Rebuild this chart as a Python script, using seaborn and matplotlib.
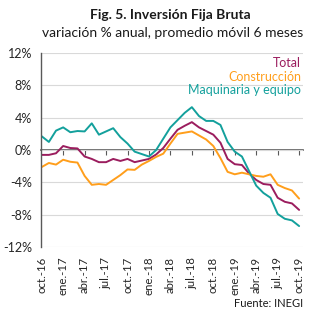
import matplotlib
matplotlib.use("Agg")
import matplotlib.pyplot as plt
import numpy as np
import pandas as pd
import seaborn as sns

months = ['oct.-16', 'nov.-16', 'dic.-16', 'ene.-17', 'feb.-17', 'mar.-17', 'abr.-17', 'may.-17',
          'jun.-17', 'jul.-17', 'ago.-17', 'sep.-17', 'oct.-17', 'nov.-17', 'dic.-17', 'ene.-18',
          'feb.-18', 'mar.-18', 'abr.-18', 'may.-18', 'jun.-18', 'jul.-18', 'ago.-18', 'sep.-18',
          'oct.-18', 'nov.-18', 'dic.-18', 'ene.-19', 'feb.-19', 'mar.-19', 'abr.-19', 'may.-19',
          'jun.-19', 'jul.-19', 'ago.-19', 'sep.-19', 'oct.-19']

total = [-0.6, -0.6, -0.4, 0.5, 0.25, 0.2, -0.8, -1.1, -1.5, -1.5, -1.1, -1.35, -1.1, -1.5,
         -1.3, -1.1, -0.55, 0.25, 1.4, 2.5, 3.0, 3.45, 2.8, 2.35, 1.9, 0.9, -1.1, -1.75,
         -1.85, -2.9, -3.7, -4.2, -4.3, -5.9, -6.4, -6.6, -7.4]
construccion = [-2.1, -1.6, -1.8, -1.2, -1.45, -1.55, -3.2, -4.3, -4.2, -4.3, -3.7, -3.1, -2.4,
                -2.45, -1.8, -1.35, -0.85, -0.45, 0.8, 2.0, 2.15, 2.3, 1.8, 1.3, 0.5, -1.0,
                -2.7, -3.0, -2.8, -3.0, -3.2, -3.3, -3.0, -4.3, -4.7, -5.0, -6.0]
maquinaria = [1.7, 1.0, 2.4, 2.8, 2.2, 2.35, 2.3, 3.3, 1.9, 2.3, 2.7, 1.6, 0.8, -0.2, -0.5,
              -0.8, 0.0, 1.4, 2.8, 3.7, 4.6, 5.3, 4.2, 3.6, 3.6, 3.1, 1.0, -0.2, -0.8, -2.6,
              -4.4, -5.3, -5.9, -7.9, -8.5, -8.7, -9.4]

series_names = ['Total', 'Construcción', 'Maquinaria y equipo']
series_colors = ['#9B1D5E', '#FF9E1B', '#13A09C']

tick_labels = ['oct.-16', 'ene.-17', 'abr.-17', 'jul.-17', 'oct.-17', 'ene.-18', 'abr.-18',
               'jul.-18', 'oct.-18', 'ene.-19', 'abr.-19', 'jul.-19', 'oct.-19']
y_ticks = [-12, -8, -4, 0, 4, 8, 12]

df = pd.DataFrame({
    'idx': list(range(len(months))) * 3,
    'mes': months * 3,
    'valor': total + construccion + maquinaria,
    'serie': [series_names[0]] * len(months) + [series_names[1]] * len(months)
             + [series_names[2]] * len(months),
})

sns.set_style("white")
plt.rcParams['font.family'] = ['Lato', 'DejaVu Sans']

fig = plt.figure(figsize=(3.28, 3.23), dpi=100)
ax = fig.add_axes([0.125, 0.235, 0.80, 0.601])

sns.lineplot(data=df, x='idx', y='valor', hue='serie', hue_order=series_names,
             palette=dict(zip(series_names, series_colors)), linewidth=1.4, ax=ax)

ax.set_xlim(-0.1, 36.6)
ax.set_ylim(-12, 12)
ax.set_xlabel('')
ax.set_ylabel('')

tick_pos = [months.index(t) for t in tick_labels]
ax.set_xticks(tick_pos)
ax.set_xticklabels(tick_labels, rotation=90, fontsize=8.2, color='#262626')
ax.tick_params(axis='x', length=0, pad=7)

ax.set_yticks(y_ticks)
ax.set_yticklabels([f'{v}%' for v in y_ticks], fontsize=9, color='#262626')
ax.tick_params(axis='y', length=3.5, width=0.8, color='#595959', pad=3, direction='out')

ax.yaxis.grid(True, color='#D9D9D9', linewidth=0.8)
ax.xaxis.grid(False)
for s in ['top', 'right', 'bottom']:
    ax.spines[s].set_visible(False)
ax.spines['left'].set_color('#595959')
ax.spines['left'].set_linewidth(1.0)

# axis line at 0 with tick marks
sec = ax.secondary_xaxis(0.5)
sec.set_alignment('bottom')
sec.set_xticks(tick_pos[1:])
sec.tick_params(axis='x', length=3.5, width=0.8, color='#595959',
                labelbottom=False, labeltop=False, direction='out')
for s in sec.spines.values():
    s.set_color('#595959')
    s.set_linewidth(1.2)

handles, labels = ax.get_legend_handles_labels()
leg = ax.legend(handles, labels, loc='upper right', bbox_to_anchor=(1.015, 1.013), frameon=False,
                handlelength=0, handletextpad=0, markerfirst=False, labelcolor='linecolor',
                fontsize=9, labelspacing=0.15, borderpad=0)
for h in leg.legend_handles:
    h.set_visible(False)

fig.text(0.52, 0.955, 'Fig. 5. Inversión Fija Bruta', ha='center', va='center',
         fontsize=10, fontweight='bold', color='#1a1a1a')
fig.text(0.525, 0.898, 'variación % anual, promedio móvil 6 meses', ha='center', va='center',
         fontsize=10, color='#1a1a1a')
fig.text(0.925, 0.06, 'Fuente: INEGI', ha='right', va='center', fontsize=8, color='#1a1a1a')

fig.savefig('out.png', dpi=100)
